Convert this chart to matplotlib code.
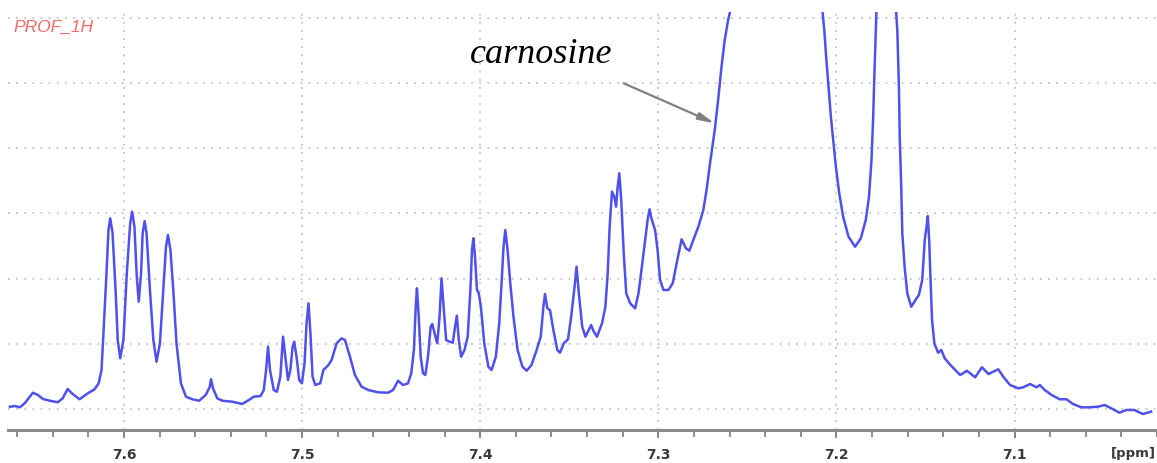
import matplotlib
matplotlib.use("Agg")
import matplotlib.pyplot as plt
import numpy as np

# ---- data (chemical shift in ppm, intensity in grid units) ----
ppm = [7.6640, 7.6612, 7.6584, 7.6556, 7.6511, 7.6483, 7.6455, 7.6416, 7.6372, 7.6344,
       7.6316, 7.6288, 7.6249, 7.6209, 7.6165, 7.6142, 7.6126, 7.6115, 7.6098, 7.6087,
       7.6077, 7.6064, 7.6047, 7.6035, 7.6021, 7.6003, 7.5984, 7.5965, 7.5954, 7.5941,
       7.5928, 7.5917, 7.5904, 7.5895, 7.5884, 7.5873, 7.5854, 7.5835, 7.5817, 7.5798,
       7.5779, 7.5764, 7.5753, 7.5739, 7.5723, 7.5705, 7.5680, 7.5652, 7.5616, 7.5578,
       7.5541, 7.5518, 7.5511, 7.5500, 7.5476, 7.5448, 7.5392, 7.5336, 7.5299, 7.5271,
       7.5233, 7.5215, 7.5202, 7.5191, 7.5180, 7.5159, 7.5141, 7.5122, 7.5107, 7.5094,
       7.5079, 7.5066, 7.5053, 7.5044, 7.5031, 7.5016, 7.5001, 7.4986, 7.4975, 7.4964,
       7.4953, 7.4941, 7.4926, 7.4898, 7.4880, 7.4852, 7.4834, 7.4806, 7.4778, 7.4759,
       7.4731, 7.4703, 7.4666, 7.4628, 7.4573, 7.4517, 7.4489, 7.4461, 7.4433, 7.4405,
       7.4387, 7.4372, 7.4362, 7.4355, 7.4345, 7.4334, 7.4321, 7.4308, 7.4293, 7.4278,
       7.4269, 7.4256, 7.4241, 7.4228, 7.4217, 7.4204, 7.4191, 7.4172, 7.4154, 7.4141,
       7.4131, 7.4120, 7.4107, 7.4088, 7.4070, 7.4055, 7.4046, 7.4038, 7.4029, 7.4018,
       7.4008, 7.3996, 7.3977, 7.3954, 7.3936, 7.3912, 7.3893, 7.3880, 7.3869, 7.3859,
       7.3846, 7.3831, 7.3813, 7.3790, 7.3763, 7.3739, 7.3712, 7.3683, 7.3660, 7.3645,
       7.3636, 7.3623, 7.3608, 7.3589, 7.3567, 7.3552, 7.3530, 7.3507, 7.3489, 7.3470,
       7.3459, 7.3446, 7.3427, 7.3409, 7.3390, 7.3377, 7.3362, 7.3344, 7.3316, 7.3297,
       7.3284, 7.3273, 7.3260, 7.3247, 7.3237, 7.3228, 7.3219, 7.3208, 7.3194, 7.3180,
       7.3158, 7.3130, 7.3111, 7.3092, 7.3074, 7.3060, 7.3049, 7.3036, 7.3018, 7.3004,
       7.2990, 7.2971, 7.2943, 7.2919, 7.2897, 7.2869, 7.2845, 7.2826, 7.2803, 7.2775,
       7.2747, 7.2729, 7.2707, 7.2683, 7.2664, 7.2645, 7.2627, 7.2608, 7.2599, 7.2590,
       7.2320, 7.2085, 7.2077, 7.2068, 7.2059, 7.2044, 7.2031, 7.2018, 7.2003, 7.1984,
       7.1962, 7.1932, 7.1895, 7.1863, 7.1835, 7.1817, 7.1803, 7.1794, 7.1787, 7.1779,
       7.1775, 7.1771, 7.1720, 7.1668, 7.1664, 7.1658, 7.1649, 7.1644, 7.1636, 7.1630,
       7.1617, 7.1602, 7.1580, 7.1556, 7.1537, 7.1518, 7.1504, 7.1494, 7.1487, 7.1479,
       7.1472, 7.1463, 7.1450, 7.1429, 7.1411, 7.1392, 7.1360, 7.1305, 7.1267, 7.1221,
       7.1183, 7.1146, 7.1091, 7.1063, 7.1025, 7.0979, 7.0951, 7.0913, 7.0876, 7.0858,
       7.0830, 7.0792, 7.0746, 7.0708, 7.0672, 7.0625, 7.0578, 7.0532, 7.0494, 7.0457,
       7.0411, 7.0373, 7.0327, 7.0280, 7.0233]

intensity = [0.035, 0.046, 0.026, 0.092, 0.250, 0.215, 0.153, 0.127, 0.103, 0.164,
             0.307, 0.230, 0.149, 0.230, 0.302, 0.394, 0.598, 1.166, 2.086, 2.745,
             2.925, 2.699, 1.825, 1.058, 0.778, 1.058, 2.081, 2.848, 3.026, 2.796,
             2.029, 1.646, 2.081, 2.695, 2.883, 2.695, 1.825, 1.058, 0.725, 1.008,
             1.825, 2.489, 2.669, 2.439, 1.825, 1.008, 0.394, 0.189, 0.149, 0.127,
             0.215, 0.342, 0.456, 0.317, 0.164, 0.127, 0.112, 0.077, 0.138, 0.189,
             0.199, 0.291, 0.598, 0.956, 0.598, 0.291, 0.265, 0.495, 1.109, 0.802,
             0.445, 0.598, 0.956, 1.032, 0.802, 0.445, 0.394, 0.701, 1.314, 1.621,
             1.161, 0.495, 0.368, 0.394, 0.598, 0.675, 0.752, 1.008, 1.084, 1.058,
             0.802, 0.521, 0.342, 0.291, 0.256, 0.250, 0.291, 0.434, 0.368, 0.394,
             0.548, 0.905, 1.569, 1.851, 1.416, 0.802, 0.548, 0.521, 0.802, 1.262,
             1.304, 1.161, 1.008, 1.416, 2.005, 1.518, 1.058, 1.032, 1.017, 1.262,
             1.431, 1.058, 0.802, 0.905, 1.109, 1.825, 2.439, 2.618, 2.336, 1.825,
             1.775, 1.569, 1.008, 0.649, 0.598, 0.802, 1.314, 1.928, 2.489, 2.745,
             2.439, 1.928, 1.416, 0.905, 0.649, 0.587, 0.675, 0.905, 1.109, 1.569,
             1.764, 1.544, 1.518, 1.212, 0.905, 0.863, 1.008, 1.069, 1.416, 1.876,
             2.183, 1.775, 1.262, 1.109, 1.212, 1.288, 1.186, 1.109, 1.314, 1.569,
             2.081, 2.796, 3.333, 3.256, 3.103, 3.410, 3.615, 3.206, 2.388, 1.775,
             1.621, 1.544, 1.775, 2.183, 2.592, 2.899, 3.063, 2.899, 2.745, 2.439,
             1.979, 1.825, 1.825, 1.928, 2.235, 2.603, 2.465, 2.428, 2.592, 2.796,
             3.052, 3.359, 3.819, 4.279, 4.739, 5.250, 5.660, 5.966, 6.069, 6.250,
             9.000, 6.250, 6.069, 5.813, 5.456, 4.943, 4.483, 4.126, 3.716, 3.308,
             2.949, 2.643, 2.489, 2.618, 2.899, 3.256, 3.819, 4.433, 5.097, 5.762,
             6.069, 6.503, 9.000, 6.503, 6.069, 5.813, 4.943, 4.126, 3.410, 2.695,
             2.182, 1.775, 1.569, 1.672, 1.748, 1.979, 2.592, 2.796, 2.960, 2.592,
             2.029, 1.365, 1.008, 0.863, 0.905, 0.778, 0.675, 0.521, 0.587, 0.486,
             0.640, 0.537, 0.609, 0.495, 0.368, 0.317, 0.333, 0.383, 0.333, 0.368,
             0.291, 0.215, 0.149, 0.149, 0.077, 0.026, 0.026, 0.035, 0.061, 0.011,
             -0.057, -0.015, -0.015, -0.077, -0.041]

major_ticks = [7.6, 7.5, 7.4, 7.3, 7.2, 7.1]
tick_labels = ["7.6", "7.5", "7.4", "7.3", "7.2", "7.1"]
grid_levels = [0, 1, 2, 3, 4, 5, 6]
annotation_label = "carnosine"
spectrum_title = "PROF_1H"

# ---- figure ----
W, H = 1157, 463
fig = plt.figure(figsize=(W / 100, H / 100), dpi=100)
ax = fig.add_axes([8 / W, 33 / H, (W - 8) / W, (430 - 12) / H])

ax.plot(ppm, intensity, color="#5050ec", lw=1.8, solid_joinstyle="round", zorder=3)

ax.set_xlim(7.6651, 7.0232)
ax.set_ylim(-0.322, 6.089)

# gridlines
grid_kw = dict(color="#c4c4c4", lw=1.3, linestyle=(0, (1, 3.5)), zorder=1)
for g in grid_levels:
    ax.axhline(g, **grid_kw)
for t in major_ticks:
    ax.axvline(t, **grid_kw)

# axes styling
for s in ["top", "left", "right"]:
    ax.spines[s].set_visible(False)
ax.spines["bottom"].set_color("#8a8a8a")
ax.spines["bottom"].set_linewidth(2.2)
ax.set_yticks([])
ax.set_xticks(major_ticks)
ax.set_xticklabels(tick_labels, fontsize=10, fontweight="bold", color="#3a3a3a")
ax.set_xticks(np.arange(7.02, 7.67, 0.02), minor=True)
ax.tick_params(axis="x", which="major", direction="out", length=6, width=1.3,
               color="#7a7a7a", pad=7)
ax.tick_params(axis="x", which="minor", direction="out", length=5, width=1.2,
               color="#7a7a7a")

fig.text(1156 / W, 1 - 454 / H, "[ppm]", ha="right", va="center", fontsize=9.5,
         fontweight="bold", color="#3a3a3a")
fig.text(13 / W, 1 - 27 / H, spectrum_title, ha="left", va="center", fontsize=12.5,
         style="italic", family="Liberation Sans", color="#f06a6a")

ax.annotate("", xy=(7.2683, 4.382), xytext=(7.3194, 4.995),
            arrowprops=dict(arrowstyle="-|>,head_length=0.8,head_width=0.18",
                            color="#808080", lw=1.6, mutation_scale=12,
                            shrinkA=0, shrinkB=0), zorder=4)
ax.text(7.3656, 5.43, annotation_label, ha="center", va="center", fontsize=26,
        style="italic", family="Liberation Serif", color="black")

fig.savefig("out.png", dpi=100)
